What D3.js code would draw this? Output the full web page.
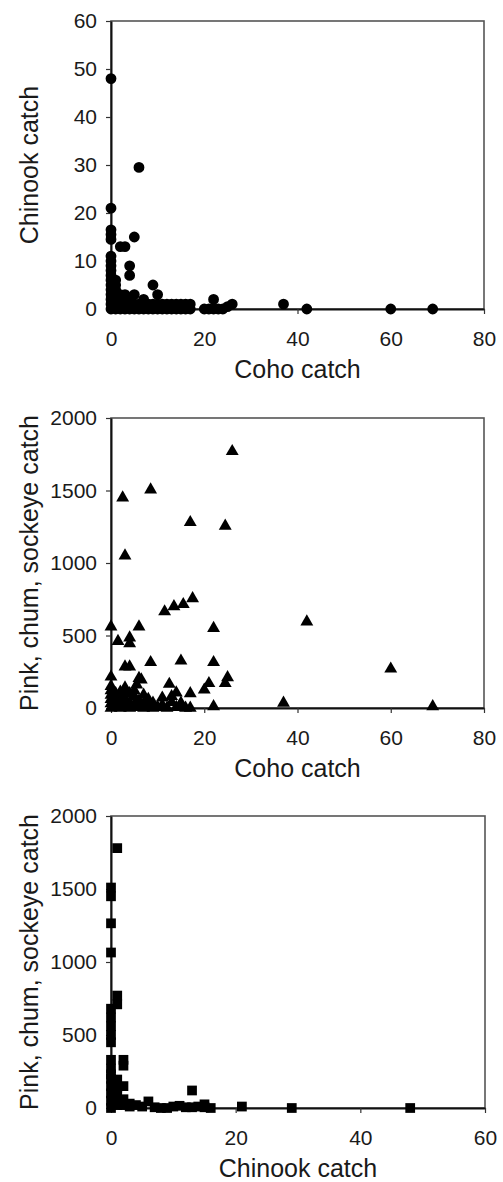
<!DOCTYPE html>
<html><head><meta charset="utf-8">
<script src="https://cdn.jsdelivr.net/npm/d3@7"></script>
<style>body{margin:0;background:#fff} text{font-family:"Liberation Sans",Arial,sans-serif}</style>
</head><body><svg id="c" width="503" height="1182"></svg>
<script>
// ---------- data ----------
const cohoTicks = [0, 20, 40, 60, 80];
const chinookTicks = [0, 10, 20, 30, 40, 50, 60];
const chinookXTicks = [0, 20, 40, 60];
const otherTicks = [0, 500, 1000, 1500, 2000];

// Panel 1: Coho vs Chinook
const p1Coho = [0,6,0,0,0,0,5,2,3,0, 0,0,0,0,0,0,0,0,0,0, 0,4,4,1,1,1,9,10,5,7, 1,2,3,4,2,1,22,26,37,42, 60,69,
  1,2,3,4,5,6,7,8,9,10,11,12,13,14,15,16,17,
  1,2,3,4,5,6,7,8,9,10,11,12,13,14,15,16,17,
  20,21,22,23,24,25];
const p1Chinook = [48,29.5,21,16.5,15.5,14.5,15,13,13,11, 10,9,8,7,6,5,4,3,2,1, 0,9,7,6,5,4,5,3,3,2, 3,3,3,2,2,2,2,1,1,0, 0,0,
  1,1,1,1,1,1,1,1,1,1,1,1,1,1,1,1,1,
  0,0,0,0,0,0,0,0,0,0,0,0,0,0,0,0,0,
  0,0,0,0,0,0.5];

// Panel 2: Coho vs Pink, chum, sockeye
const p2Coho = [26,8.5,2.5,17,24.5,3,17.5,15.5,13.5,11.5, 0,1.5,4,4,6,22,42,3,4,8.5, 15,22,60,0,6,25,24.5,21,20,17, 12.5,14,11,9,15,37,69,22,17,0, 3,5.5,6.5,
  0,0,0,0,0,1,1,1,2,2, 2,3,3,3,4,4,5,5,6,6, 7,7,8,9,10,11,12,13,13,14, 15,16,2,5,4,7,8];
const p2Other = [1770,1505,1450,1280,1255,1050,755,715,700,665, 560,460,485,445,560,550,595,285,285,315, 325,315,270,215,205,210,170,170,125,100, 165,105,70,35,35,35,10,10,0,150, 140,160,195,
  0,30,60,90,120,10,50,100,0,30, 70,15,60,100,0,40,20,80,5,50, 0,30,10,0,5,20,0,40,80,5, 10,0,110,120,100,90,60];

// Panel 3: Chinook vs Pink, chum, sockeye
const p3Chinook = [1,0,0,0,0,1,1,0,0,0, 0,0,0,0,2,2,1,2,13,6, 11,15,16,21,29,48,
  0,0,0,0,0,0,1,1,1,1, 2,2,3,3,4,5,7,8,9,10, 12,13,14,15,0.5];
const p3Other = [1780,1510,1450,1265,1065,770,710,680,620,560, 500,450,330,270,330,290,195,150,120,45, 15,25,0,10,0,0,
  0,50,100,150,200,230,50,20,100,140, 60,20,30,10,20,10,5,0,0,10, 5,5,10,5,60];

// ---------- drawing ----------
const svg = d3.select("#c");
const panels = [
  {x0:111, x1:484, y0:21,  y1:309,  xDom:[0,80], yDom:[0,60],   xT:cohoTicks,     yT:chinookTicks,
   xs:p1Coho, ys:p1Chinook, sym:d3.symbolCircle,   size:92, xTitle:"Coho catch",    yTitle:"Chinook catch"},
  {x0:111, x1:484, y0:418, y1:708,  xDom:[0,80], yDom:[0,2000], xT:cohoTicks,     yT:otherTicks,
   xs:p2Coho, ys:p2Other,   sym:d3.symbolTriangle, size:72, xTitle:"Coho catch",    yTitle:"Pink, chum, sockeye catch"},
  {x0:111, x1:485, y0:816, y1:1108, xDom:[0,60], yDom:[0,2000], xT:chinookXTicks, yT:otherTicks,
   xs:p3Chinook, ys:p3Other, sym:d3.symbolSquare,  size:95, xTitle:"Chinook catch", yTitle:"Pink, chum, sockeye catch"}
];

panels.forEach(p => {
  const x = d3.scaleLinear().domain(p.xDom).range([p.x0, p.x1]);
  const y = d3.scaleLinear().domain(p.yDom).range([p.y1, p.y0]);
  const g = svg.append("g");

  g.append("rect").attr("x", p.x0).attr("y", p.y0)
    .attr("width", p.x1 - p.x0).attr("height", p.y1 - p.y0)
    .attr("fill", "none").attr("stroke", "#555").attr("stroke-width", 1.6);

  const ax = g.append("g").attr("transform", `translate(0,${p.y1})`)
    .call(d3.axisBottom(x).tickValues(p.xT).tickFormat(d3.format("d")).tickSize(5).tickSizeOuter(0).tickPadding(17));
  const ay = g.append("g").attr("transform", `translate(${p.x0},0)`)
    .call(d3.axisLeft(y).tickValues(p.yT).tickFormat(d3.format("d")).tickSize(5).tickSizeOuter(0).tickPadding(9));
  [ax, ay].forEach(a => {
    a.select(".domain").attr("stroke", "#111").attr("stroke-width", 2);
    a.selectAll(".tick line").attr("stroke", "#333").attr("stroke-width", 1.2);
    a.selectAll(".tick text").attr("font-size", 21).attr("fill", "#1a1a1a")
      .attr("font-family", '"Liberation Sans",Arial,sans-serif');
  });

  const sym = d3.symbol().type(p.sym).size(p.size);
  g.selectAll("path.pt").data(p.xs.map((v, i) => [v, p.ys[i]])).join("path")
    .attr("class", "pt")
    .attr("d", sym)
    .attr("transform", d => `translate(${x(d[0])},${y(d[1])})`)
    .attr("fill", "#000");

  g.append("text").attr("x", (p.x0 + p.x1) / 2).attr("y", p.y1 + 69)
    .attr("text-anchor", "middle").attr("font-size", 25).attr("fill", "#1a1a1a").text(p.xTitle);
  g.append("text").attr("transform", `translate(38,${(p.y0 + p.y1) / 2}) rotate(-90)`)
    .attr("text-anchor", "middle").attr("font-size", 25).attr("fill", "#1a1a1a").text(p.yTitle);
});
</script></body></html>
